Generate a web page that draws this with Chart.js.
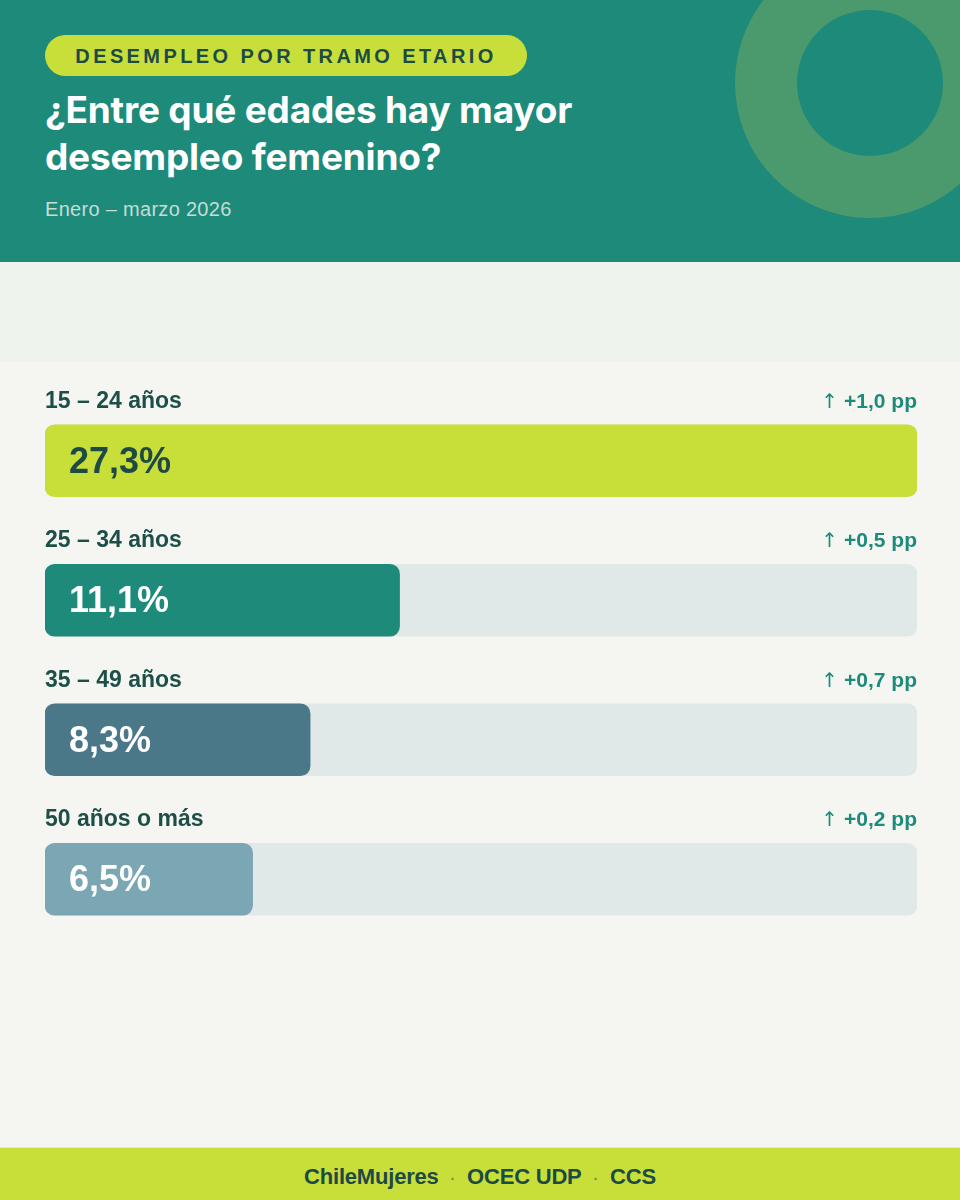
<!DOCTYPE html>
<html lang="es">
<head>
<meta charset="UTF-8">
<title>Desempleo por tramo etario</title>
<script src="https://cdn.jsdelivr.net/npm/chart.js"></script>
<style>
  html, body { margin: 0; padding: 0; }
  body { width: 960px; height: 1200px; position: relative; overflow: hidden; background: #f5f6f1; font-family: "Liberation Sans", Arial, sans-serif; }
  .header { position: absolute; left: 0; top: 0; width: 960px; height: 262px; background: #1e8a7a; overflow: hidden; }
  .ring { position: absolute; left: 735px; top: -52px; width: 270px; height: 270px; border-radius: 50%; background: #4b9a6e; }
  .ring::after { content: ""; position: absolute; left: 62px; top: 62px; width: 146px; height: 146px; border-radius: 50%; background: #1e8a7a; }
  .pill { position: absolute; left: 45px; top: 35px; width: 482px; height: 41px; border-radius: 21px; background: #c8df3a; color: #1d4a44; font-weight: bold; font-size: 20px; letter-spacing: 3.4px; line-height: 42px; text-align: center; }
  .title { position: absolute; left: 45px; top: 86px; color: #fff; font-family: Inter, "Open Sans", sans-serif; font-weight: 700; font-size: 37px; line-height: 47px; letter-spacing: -0.2px; }
  .sub { position: absolute; left: 45px; top: 198px; color: #c3ddd7; font-size: 20px; letter-spacing: 0.3px; }
  .band { position: absolute; left: 0; top: 262px; width: 960px; height: 100px; background: #eef3ee; }
  .chartbox { position: absolute; left: 45px; top: 370px; width: 872px; height: 580px; }
  .footer { position: absolute; left: 0; top: 1147px; width: 960px; height: 53px; background: #c8df3a; border-top: 1px solid #e4eec0; color: #1d4a44; font-weight: bold; font-size: 22px; letter-spacing: -0.2px; text-align: center; line-height: 58px; }
  .footer .dot { color: #6f8a5a; font-size: 14px; margin: 0 12px; }
</style>
</head>
<body>
  <div class="header">
    <div class="ring"></div>
    <div class="pill">DESEMPLEO POR TRAMO ETARIO</div>
    <div class="title">¿Entre qué edades hay mayor<br>desempleo femenino?</div>
    <div class="sub">Enero – marzo 2026</div>
  </div>
  <div class="band"></div>
  <div class="chartbox"><canvas id="tramos"></canvas></div>
  <div class="footer">ChileMujeres<span class="dot">·</span>OCEC UDP<span class="dot">·</span>CCS</div>
<script>
// datos
const categories = ['15 – 24 años', '25 – 34 años', '35 – 49 años', '50 años o más'];
const values = [27.3, 11.1, 8.3, 6.5];
const deltas = [1.0, 0.5, 0.7, 0.2];

// estilos
const barColors = ['#c8df3a', '#1e8a7a', '#4a7888', '#7ba6b4'];
const valueTextColors = ['#1d4a44', '#ffffff', '#ffffff', '#ffffff'];

const maxVal = Math.max(...values);
const fmt = v => v.toFixed(1).replace('.', ',');

const labelsPlugin = {
  id: 'labels',
  afterDatasetsDraw(chart) {
    const ctx = chart.ctx;
    const area = chart.chartArea;
    const meta = chart.getDatasetMeta(0);
    ctx.save();
    meta.data.forEach((bar, i) => {
      const top = bar.y - bar.height / 2;
      // categoria
      ctx.fillStyle = '#1d4f48';
      ctx.font = 'bold 23px "Liberation Sans", Arial';
      ctx.textAlign = 'left';
      ctx.textBaseline = 'alphabetic';
      ctx.fillText(categories[i], area.left, top - 17);
      // variacion
      ctx.textAlign = 'right';
      ctx.fillStyle = '#1e8a7a';
      ctx.font = 'bold 21px "Liberation Sans", Arial';
      const dTxt = '+' + fmt(deltas[i]) + ' pp';
      ctx.fillText(dTxt, area.right, top - 17);
      const w = ctx.measureText(dTxt).width;
      ctx.font = '20px "DejaVu Sans", sans-serif';
      ctx.fillText('↑', area.right - w - 6, top - 17);
      // valor
      ctx.textAlign = 'left';
      ctx.textBaseline = 'middle';
      ctx.fillStyle = valueTextColors[i];
      ctx.font = 'bold 36px "Liberation Sans", Arial';
      ctx.fillText(fmt(values[i]) + '%', area.left + 24, bar.y + 2);
    });
    ctx.restore();
  }
};

new Chart(document.getElementById('tramos'), {
  type: 'bar',
  data: {
    labels: categories,
    datasets: [
      {
        data: values,
        backgroundColor: barColors,
        borderRadius: 10,
        borderSkipped: false,
        barThickness: 72,
        grouped: false,
        order: 0
      },
      {
        data: values.map(() => maxVal),
        backgroundColor: '#e0e9e8',
        borderRadius: 10,
        borderSkipped: false,
        barThickness: 72,
        grouped: false,
        order: 1
      }
    ]
  },
  options: {
    indexAxis: 'y',
    responsive: true,
    maintainAspectRatio: false,
    animation: false,
    layout: { padding: { top: 21, bottom: 1, left: 0, right: 0 } },
    scales: {
      x: { display: false, min: 0, max: maxVal },
      y: { display: false }
    },
    plugins: {
      legend: { display: false },
      tooltip: { enabled: false }
    }
  },
  plugins: [labelsPlugin]
});
</script>
</body>
</html>
